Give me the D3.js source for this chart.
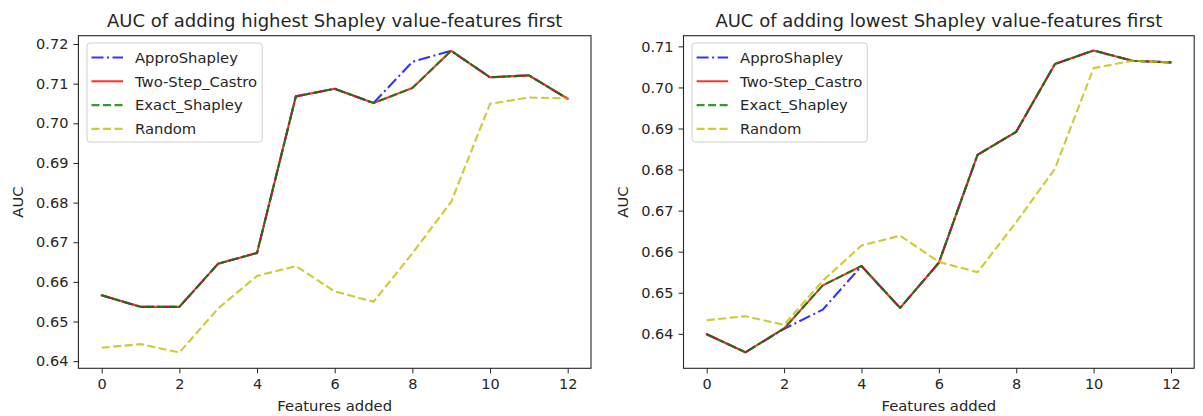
<!DOCTYPE html>
<html>
<head>
<meta charset="utf-8">
<script src="https://cdn.jsdelivr.net/npm/d3@7"></script>
<style>
  html, body { margin: 0; padding: 0; background: #fff; }
  svg { display: block; font-family: "DejaVu Sans", sans-serif; }
</style>
</head>
<body>
<svg id="chart" width="1203" height="416"></svg>
<script>
// ---- data ----
const featuresAdded = [0,1,2,3,4,5,6,7,8,9,10,11,12];
const xTicks = [0,2,4,6,8,10,12];

// Left: adding highest Shapley value-features first
const highAppro   = [0.6566,0.6537,0.6537,0.6646,0.6673,0.7068,0.7087,0.7051,0.7155,0.7183,0.7116,0.7121,0.7062];
const highCastro  = [0.6566,0.6537,0.6537,0.6646,0.6673,0.7068,0.7087,0.7051,0.7089,0.7183,0.7116,0.7121,0.7062];
const highExact   = [0.6566,0.6537,0.6537,0.6646,0.6673,0.7068,0.7087,0.7051,0.7089,0.7183,0.7116,0.7121,0.7062];
const highRandom  = [0.6434,0.6443,0.6422,0.6533,0.6615,0.6640,0.6576,0.6550,0.6672,0.6802,0.7049,0.7065,0.7063];
const highYTicks  = [0.64,0.65,0.66,0.67,0.68,0.69,0.70,0.71,0.72];

// Right: adding lowest Shapley value-features first
const lowAppro    = [0.6399,0.6355,0.6412,0.6459,0.6565,0.6463,0.6573,0.6836,0.6892,0.7057,0.7090,0.7065,0.7061];
const lowCastro   = [0.6399,0.6355,0.6413,0.6518,0.6565,0.6463,0.6573,0.6836,0.6892,0.7057,0.7090,0.7065,0.7061];
const lowExact    = [0.6399,0.6355,0.6413,0.6518,0.6565,0.6463,0.6573,0.6836,0.6892,0.7057,0.7090,0.7065,0.7061];
const lowRandom   = [0.6433,0.6443,0.6422,0.6529,0.6615,0.6639,0.6575,0.6550,0.6672,0.6802,0.7047,0.7065,0.7061];
const lowYTicks   = [0.64,0.65,0.66,0.67,0.68,0.69,0.70,0.71];

const seriesNames = ["ApproShapley","Two-Step_Castro","Exact_Shapley","Random"];

// ---- styles ----
const styles = [
  {color:"rgba(0,0,255,0.8)",   dash:"12,3.5,2,3.5"},
  {color:"rgba(255,0,0,0.8)",   dash:null},
  {color:"rgba(0,128,0,0.8)",   dash:"8,3.5"},
  {color:"rgba(191,191,0,0.8)", dash:"8,3.5"}
];

const svg = d3.select("#chart");
const textColor = "#262626";
const tickFont = 14.5, labelFont = 14.8, titleFont = 18;

function panel(opts) {
  const {x0, x1, y0, y1, yDomain, yTicks, title, series} = opts;
  const x = d3.scaleLinear().domain([-0.6, 12.6]).range([x0, x1]);
  const y = d3.scaleLinear().domain(yDomain).range([y1, y0]);
  const g = svg.append("g");

  // lines
  const line = d3.line().x((d,i) => x(featuresAdded[i])).y(d => y(d));
  series.forEach((vals, k) => {
    g.append("path")
      .attr("d", line(vals))
      .attr("fill", "none")
      .attr("stroke", styles[k].color)
      .attr("stroke-width", 2.1)
      .attr("stroke-linejoin", "round")
      .attr("stroke-linecap", styles[k].dash ? "butt" : "square")
      .attr("stroke-dasharray", styles[k].dash);
  });

  // axes
  const xAxis = d3.axisBottom(x).tickValues(xTicks).tickSize(5).tickPadding(5).tickFormat(d3.format("d"));
  const yAxis = d3.axisLeft(y).tickValues(yTicks).tickSize(5).tickPadding(5).tickFormat(d3.format(".2f"));
  const gx = g.append("g").attr("transform", `translate(0,${y1})`).call(xAxis);
  const gy = g.append("g").attr("transform", `translate(${x0},0)`).call(yAxis);
  [gx, gy].forEach(a => {
    a.select(".domain").remove();
    a.selectAll(".tick line").attr("stroke", textColor).attr("stroke-width", 1);
    a.selectAll(".tick text").attr("fill", textColor).attr("font-size", tickFont).attr("font-family", "DejaVu Sans");
  });

  // frame
  g.append("rect")
    .attr("x", x0).attr("y", y0)
    .attr("width", x1 - x0).attr("height", y1 - y0)
    .attr("fill", "none").attr("stroke", textColor).attr("stroke-width", 1.1);

  // title and labels
  g.append("text")
    .attr("x", (x0 + x1) / 2).attr("y", 27)
    .attr("text-anchor", "middle").attr("font-size", titleFont).attr("fill", textColor)
    .text(title);
  g.append("text")
    .attr("x", (x0 + x1) / 2).attr("y", 411)
    .attr("text-anchor", "middle").attr("font-size", labelFont).attr("fill", textColor)
    .text("Features added");
  g.append("text")
    .attr("transform", `translate(${x0 - 55.5},${(y0 + y1) / 2}) rotate(-90)`)
    .attr("text-anchor", "middle").attr("font-size", labelFont).attr("fill", textColor)
    .text("AUC");

  // legend
  const lg = g.append("g").attr("transform", `translate(${x0 + 8.6},${y0 + 7.3})`);
  const box = lg.append("rect");
  let maxW = 0;
  seriesNames.forEach((name, k) => {
    const cy = 14.5 + k * 23.8;
    lg.append("line")
      .attr("x1", 4.5).attr("x2", 36).attr("y1", cy).attr("y2", cy)
      .attr("stroke", styles[k].color).attr("stroke-width", 2.1)
      .attr("stroke-dasharray", styles[k].dash);
    const t = lg.append("text")
      .attr("x", 48).attr("y", cy).attr("dy", "0.36em")
      .attr("font-size", labelFont).attr("fill", textColor).text(name);
    maxW = Math.max(maxW, t.node().getComputedTextLength());
  });
  box.attr("x", 0).attr("y", 0).attr("rx", 3).attr("ry", 3)
    .attr("width", 48 + maxW + 5).attr("height", 99)
    .attr("fill", "rgba(255,255,255,0.8)").attr("stroke", "#d0d0d0").attr("stroke-width", 1);
}

panel({
  x0: 78.4, x1: 591, y0: 35.7, y1: 368.3,
  yDomain: [0.6382, 0.7221], yTicks: highYTicks,
  title: "AUC of adding highest Shapley value-features first",
  series: [highAppro, highCastro, highExact, highRandom]
});
panel({
  x0: 683.5, x1: 1194.2, y0: 35.7, y1: 368.3,
  yDomain: [0.6316, 0.7126], yTicks: lowYTicks,
  title: "AUC of adding lowest Shapley value-features first",
  series: [lowAppro, lowCastro, lowExact, lowRandom]
});
</script>
</body>
</html>
